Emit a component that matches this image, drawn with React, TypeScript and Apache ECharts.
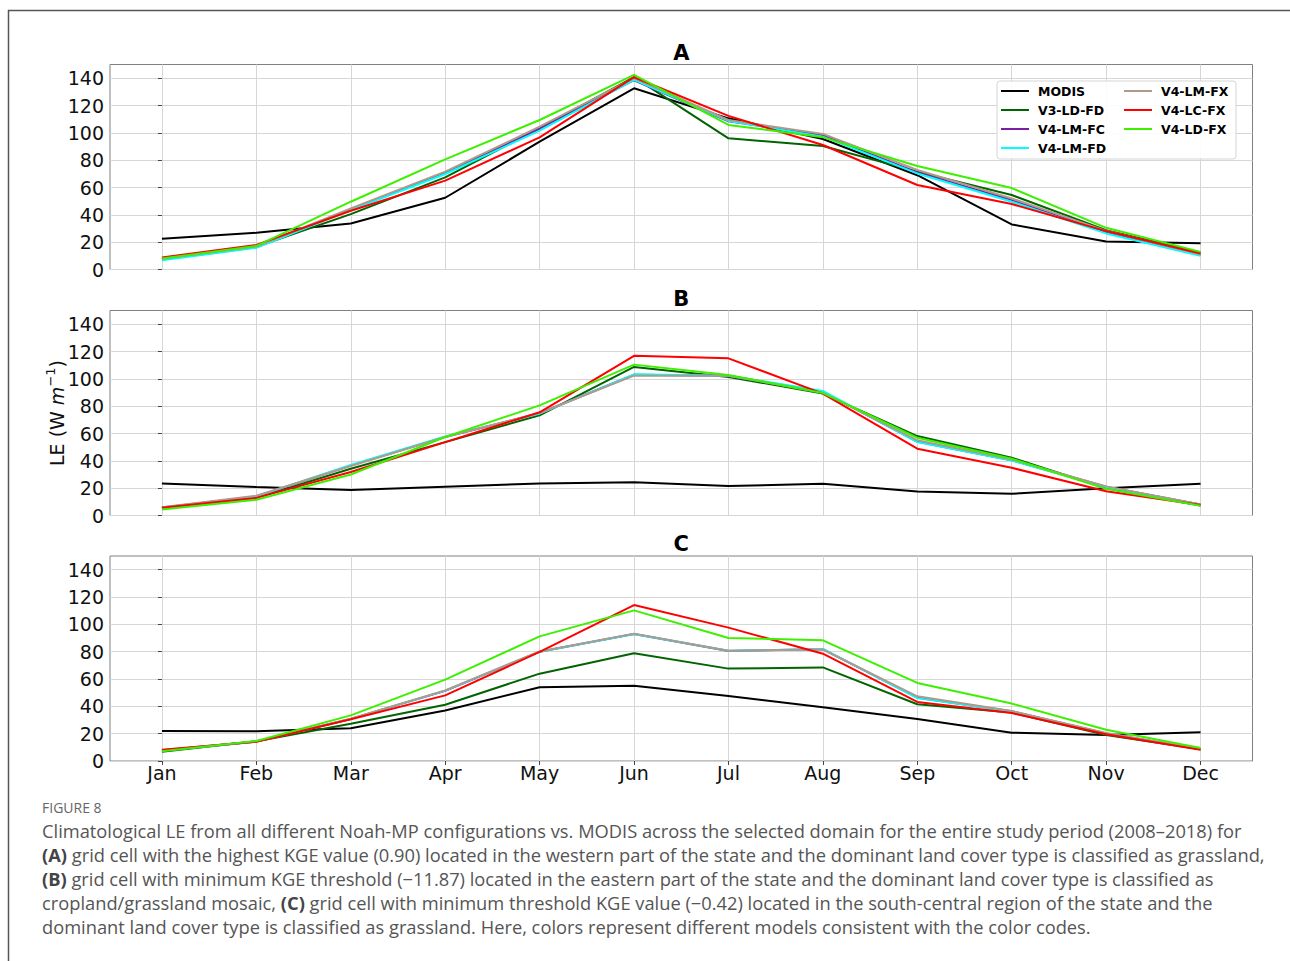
import React, { useEffect, useRef } from "react";
import * as echarts from "echarts";

const MONTHS = ["Jan", "Feb", "Mar", "Apr", "May", "Jun", "Jul", "Aug", "Sep", "Oct", "Nov", "Dec"];
const Y_TICKS = [0, 20, 40, 60, 80, 100, 120, 140];
const MODELS = ["MODIS", "V3-LD-FD", "V4-LM-FC", "V4-LM-FD", "V4-LM-FX", "V4-LC-FX", "V4-LD-FX"];
const COLORS = ["#000000", "#006400", "#7b1fa2", "#00ffff", "#b09a8a", "#ff0000", "#3cf000"];
const PANEL_TITLES = ["A", "B", "C"];

// Panel A
const A_MODIS = [22.5, 26.9, 33.7, 52.5, 93.5, 132.6, 110.6, 95.5, 69, 33, 20.5, 19.2];
const A_V3_LD_FD = [7.6, 16.6, 40.5, 67.4, 103.3, 140.7, 96, 90.4, 71.6, 54.5, 28.8, 12.5];
const A_V4_LM_FC = [7.3, 16.4, 44, 70.5, 103, 138.5, 108.5, 98.2, 71, 50.8, 27.1, 10.5];
const A_V4_LM_FD = [6.8, 15.9, 43.5, 69.9, 101.6, 138.7, 108.7, 97.2, 70.3, 49.6, 26.4, 10];
const A_V4_LM_FX = [7.8, 16.8, 44.7, 71.6, 104.5, 140, 109.4, 99.2, 72.8, 52, 28.3, 11.2];
const A_V4_LC_FX = [8.8, 18, 43, 65, 96.7, 140.7, 112.4, 91.1, 61.8, 47.9, 28.1, 11.7];
const A_V4_LD_FX = [8, 17.3, 49.6, 80.6, 109.4, 142.4, 105.8, 96.7, 75.7, 59.6, 30.5, 12.9];

// Panel B
const B_MODIS = [23.4, 20.8, 18.6, 21, 23.4, 24.4, 21.5, 23.2, 17.6, 15.9, 20, 23.2];
const B_V3_LD_FD = [5.6, 12.9, 34.2, 53.7, 73.3, 108.7, 101.4, 89.2, 58.1, 42.3, 20, 7.3];
const B_V4_LM_FC = [5.8, 13.8, 36.5, 57.5, 74.8, 103, 102.3, 90.5, 54, 40.5, 21, 8];
const B_V4_LM_FD = [5.8, 14, 36.9, 57.9, 74.5, 103.3, 102.3, 91.1, 53.7, 40.3, 20.8, 7.8];
const B_V4_LM_FX = [6.1, 14.4, 36.2, 57.4, 75, 102.3, 102.3, 89.9, 55, 41, 21.3, 8.1];
const B_V4_LC_FX = [5.6, 12.9, 31.8, 53.7, 75.5, 116.8, 115, 89.2, 48.9, 34.9, 17.8, 7.6];
const B_V4_LD_FX = [4.4, 11.5, 30, 57.4, 80.6, 110.4, 102.8, 89.6, 56.9, 41.5, 19.5, 7.1];

// Panel C
const C_MODIS = [22, 21.7, 23.9, 37, 53.9, 55.1, 47.6, 39.3, 30.7, 20.7, 19, 21];
const C_V3_LD_FD = [6.8, 14.4, 27.3, 41.2, 63.9, 78.8, 67.6, 68.5, 41.5, 35.4, 19, 8.5];
const C_V4_LM_FC = [7.6, 14.2, 30.8, 51.3, 80, 93, 80.5, 81.8, 46.3, 36.4, 20.1, 8.6];
const C_V4_LM_FD = [7.6, 14.2, 30.8, 51.5, 80, 93, 80.6, 82, 46, 36.3, 20, 8.6];
const C_V4_LM_FX = [7.8, 14.3, 31, 51.7, 80.2, 93.2, 80.7, 81.5, 47.3, 36.6, 20.5, 8.8];
const C_V4_LC_FX = [8.3, 14.1, 30.5, 48, 79.8, 114.1, 97.6, 78.5, 43.2, 35.1, 19.5, 8.3];
const C_V4_LD_FX = [7.1, 14.6, 33.4, 59.5, 91.2, 110.2, 90, 88.3, 57.1, 42, 22.9, 9.5];

const PANELS = [
  [A_MODIS, A_V3_LD_FD, A_V4_LM_FC, A_V4_LM_FD, A_V4_LM_FX, A_V4_LC_FX, A_V4_LD_FX],
  [B_MODIS, B_V3_LD_FD, B_V4_LM_FC, B_V4_LM_FD, B_V4_LM_FX, B_V4_LC_FX, B_V4_LD_FX],
  [C_MODIS, C_V3_LD_FD, C_V4_LM_FC, C_V4_LM_FD, C_V4_LM_FX, C_V4_LC_FX, C_V4_LD_FX],
];

const CAPTION_HEAD = "FIGURE 8";
const CAPTION_LINES = [
  "Climatological LE from all different Noah-MP configurations vs. MODIS across the selected domain for the entire study period (2008–2018) for",
  "{b|(A)} grid cell with the highest KGE value (0.90) located in the western part of the state and the dominant land cover type is classified as grassland,",
  "{b|(B)} grid cell with minimum KGE threshold (−11.87) located in the eastern part of the state and the dominant land cover type is classified as",
  "cropland/grassland mosaic, {b|(C)} grid cell with minimum threshold KGE value (−0.42) located in the south-central region of the state and the",
  "dominant land cover type is classified as grassland. Here, colors represent different models consistent with the color codes.",
];

const FONT = "DejaVu Sans";
const CAP_FONT = "Open Sans";
const CAP_SIZE = 18.3;
const GRID_TOPS = [64.5, 310.5, 556];
const GRID_H = 205;
const GRID_LEFT = 110;
const GRID_RIGHT = 37.5;

export default function App() {
  const ref = useRef<HTMLDivElement>(null);
  useEffect(() => {
    if (!ref.current) return;
    const chart = echarts.init(ref.current, null, { renderer: "svg" });
    const monthIdx = MONTHS.map((_, i) => i);

    const grids = GRID_TOPS.map((top) => ({
      left: GRID_LEFT,
      right: GRID_RIGHT,
      top,
      height: GRID_H,
      show: true,
      borderColor: "#808080",
      borderWidth: 1,
      backgroundColor: "transparent",
    }));

    const xAxes = GRID_TOPS.map((_, i) => ({
      type: "value",
      gridIndex: i,
      min: -0.55,
      max: 11.55,
      axisLine: { show: false },
      axisTick: {
        show: i === 2,
        length: 4,
        customValues: monthIdx,
        lineStyle: { color: "#444", width: 1 },
      },
      axisLabel: {
        show: i === 2,
        customValues: monthIdx,
        formatter: (v: number) => MONTHS[Math.round(v)] ?? "",
        fontFamily: FONT,
        fontSize: 19,
        color: "#111",
        margin: 2,
      },
      splitLine: { show: true, lineStyle: { color: "#d6d6d6", width: 1 } },
    }));

    const yAxes = GRID_TOPS.map((_, i) => ({
      type: "value",
      gridIndex: i,
      min: 0,
      max: 150,
      axisLine: { show: false },
      axisTick: {
        show: true,
        length: 4,
        customValues: Y_TICKS,
        lineStyle: { color: "#444", width: 1 },
      },
      axisLabel: {
        customValues: Y_TICKS,
        fontFamily: FONT,
        fontSize: 19,
        color: "#111",
        margin: 6,
      },
      splitLine: { show: true, lineStyle: { color: "#d6d6d6", width: 1 } },
      ...(i === 1
        ? {
            name: "{a|LE (W }{m|m}{s|−1}{a|)}",
            nameLocation: "middle",
            nameGap: 40,
            nameMoveOverlap: false,
            nameRotate: 90,
            nameTextStyle: {
              fontFamily: FONT,
              fontSize: 19,
              color: "#111",
              rich: {
                a: { fontFamily: FONT, fontSize: 19, color: "#111", lineHeight: 26 },
                m: { fontFamily: FONT, fontSize: 19, color: "#111", fontStyle: "italic", lineHeight: 26 },
                s: { fontFamily: FONT, fontSize: 13, color: "#111", verticalAlign: "top", lineHeight: 16 },
              },
            },
          }
        : {}),
    }));

    const series: any[] = [];
    PANELS.forEach((panel, p) => {
      panel.forEach((vals, k) => {
        series.push({
          type: "line",
          name: MODELS[k],
          xAxisIndex: p,
          yAxisIndex: p,
          data: vals.map((v, j) => [j, v]),
          symbol: "none",
          lineStyle: { width: 2, color: COLORS[k] },
          itemStyle: { color: COLORS[k] },
          color: COLORS[k],
        });
      });
    });

    const legendCommon = {
      orient: "vertical",
      top: 83.5,
      padding: 0,
      icon: "rect",
      itemWidth: 28,
      itemHeight: 2,
      itemGap: 4,
      z: 10,
      textStyle: {
        fontFamily: FONT,
        fontWeight: "bold",
        fontSize: 12.5,
        color: "#000",
        lineHeight: 15,
        padding: [0, 0, 0, 4],
      },
    };

    const graphics: any[] = [
      { type: "line", shape: { x1: 8, y1: 10.5, x2: 1290, y2: 10.5 }, style: { stroke: "#555", lineWidth: 1.5 } },
      { type: "line", shape: { x1: 8.5, y1: 10, x2: 8.5, y2: 961 }, style: { stroke: "#555", lineWidth: 1.5 } },
      {
        type: "rect",
        shape: { x: 997, y: 81, width: 239, height: 78, r: 3 },
        style: { fill: "rgba(255,255,255,0.9)", stroke: "#d5d5d5", lineWidth: 1 },
        z: 5,
      },
      ...PANEL_TITLES.map((t, i) => ({
        type: "text",
        x: (GRID_LEFT + 1290 - GRID_RIGHT) / 2,
        y: GRID_TOPS[i] - 12,
        style: {
          text: t,
          font: `bold 21px '${FONT}'`,
          fill: "#000",
          textAlign: "center",
          textVerticalAlign: "middle",
        },
      })),
      {
        type: "text",
        x: 42,
        y: 807,
        style: {
          text: CAPTION_HEAD,
          font: `14px '${CAP_FONT}'`,
          fill: "#666",
          textAlign: "left",
          textVerticalAlign: "middle",
        },
      },
      ...CAPTION_LINES.map((line, i) => ({
        type: "text",
        x: 42,
        y: 830 + i * 24,
        style: {
          text: line,
          font: `${CAP_SIZE}px '${CAP_FONT}'`,
          fill: "#555",
          textAlign: "left",
          textVerticalAlign: "middle",
          rich: {
            b: { font: `bold ${CAP_SIZE}px '${CAP_FONT}'`, fill: "#444" },
          },
        },
      })),
    ];

    chart.setOption({
      animation: false,
      backgroundColor: "#fff",
      grid: grids,
      xAxis: xAxes,
      yAxis: yAxes,
      series,
      legend: [
        { ...legendCommon, left: 1001, data: MODELS.slice(0, 4) },
        { ...legendCommon, left: 1124, data: MODELS.slice(4) },
      ],
      graphic: { elements: graphics },
    });
    return () => chart.dispose();
  }, []);

  return (
    <div
      ref={ref}
      style={{ position: "absolute", left: 0, top: 0, width: 1290, height: 961, background: "#fff" }}
    />
  );
}
